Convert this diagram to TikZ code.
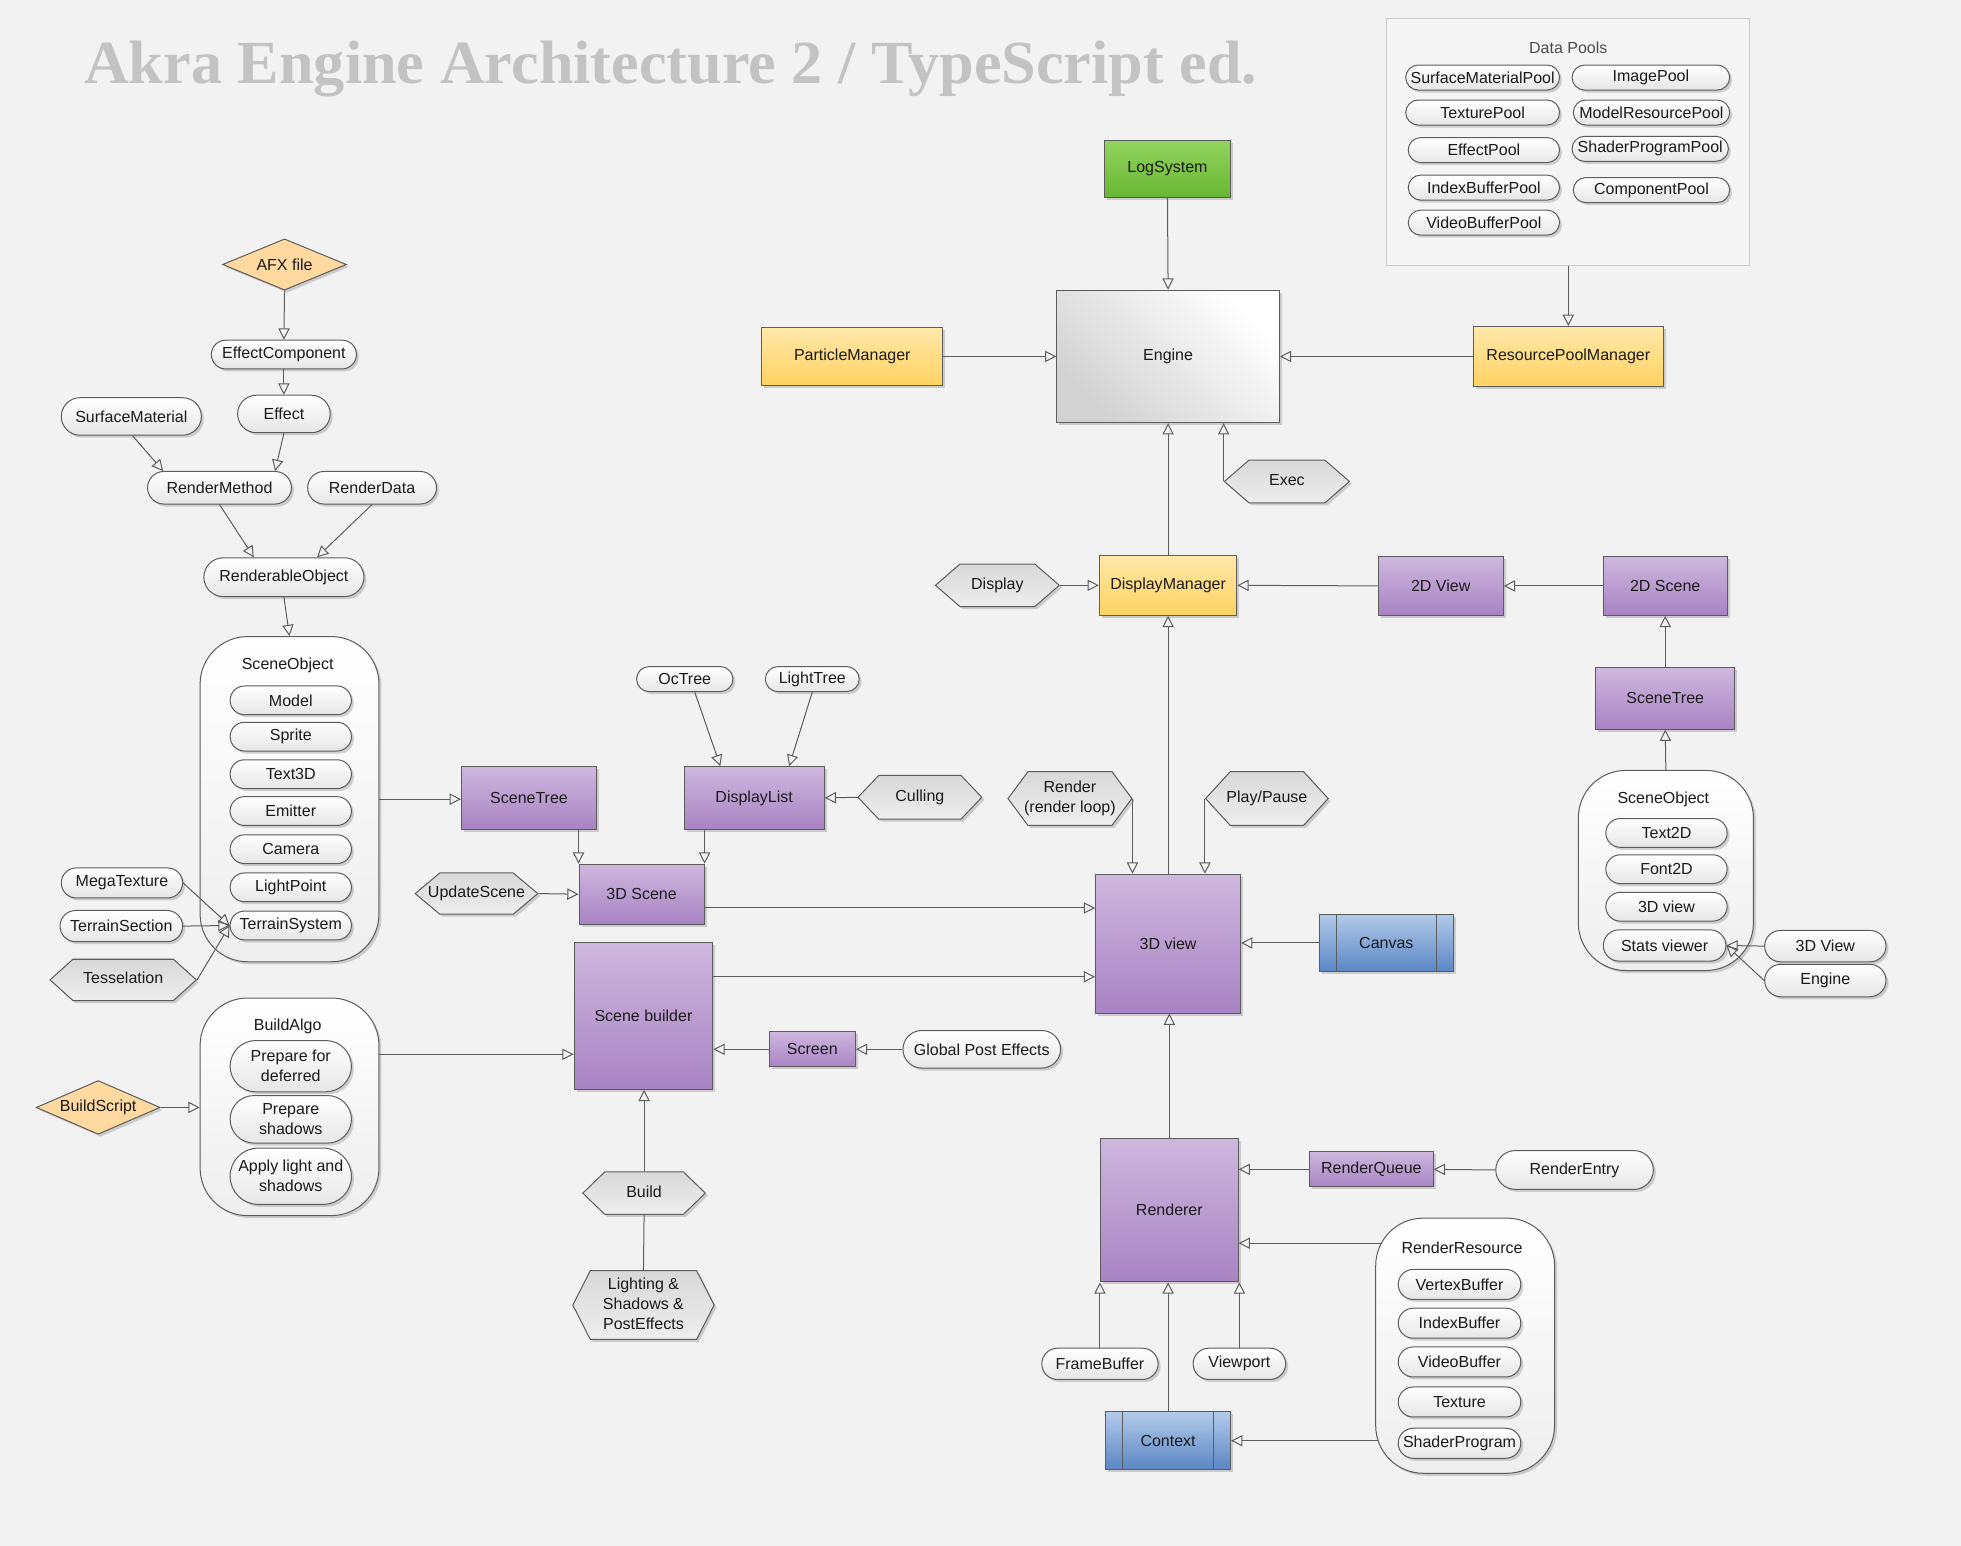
\documentclass[tikz,border=0pt]{standalone}
\usepackage{fontspec}
\setmainfont{Liberation Sans}
\newfontfamily\titlefont{Liberation Serif}
\usetikzlibrary{arrows.meta,shapes.misc,shapes.geometric,shapes.symbols,shadows,calc}
\definecolor{bg}{HTML}{F2F2F2}
\definecolor{linec}{HTML}{5C5C5C}
\definecolor{txt}{HTML}{1A1A1A}
\definecolor{purT}{HTML}{CEB7DE}
\definecolor{purB}{HTML}{A883C3}
\definecolor{yelT}{HTML}{FFE8AA}
\definecolor{yelB}{HTML}{FFD262}
\definecolor{grnT}{HTML}{92D45E}
\definecolor{grnB}{HTML}{68B634}
\definecolor{bluT}{HTML}{B2CAE9}
\definecolor{bluB}{HTML}{5A86C4}
\definecolor{hexT}{HTML}{D8D8D8}
\definecolor{hexB}{HTML}{EEEEEE}
\definecolor{pillB}{HTML}{E6E6E6}
\definecolor{contB}{HTML}{EEEEEE}
\definecolor{diamC}{HTML}{FFD9A0}
\definecolor{titleC}{HTML}{C3C3C3}
\definecolor{engB}{HTML}{D2D2D2}
\definecolor{dpfill}{HTML}{F5F5F5}
\definecolor{dpline}{HTML}{CCCCCC}
\newcommand\hexlabel[1]{\makebox[0pt]{\begin{tabular}{@{}c@{}}#1\end{tabular}}}
\begin{document}
\begin{tikzpicture}[x=1pt,y=-1pt,
  font=\fontsize{12.8}{16}\selectfont,
  sz/.style 2 args={minimum width=#1pt, minimum height=#2pt},
  base/.style={draw=linec, line width=0.8pt, inner sep=1pt, align=center, text=txt},
  shad/.style={drop shadow={shadow xshift=2pt,shadow yshift=-2pt,opacity=0.3,fill=black!55}},
  purbox/.style={base, shad, rectangle, top color=purT, bottom color=purB},
  yelbox/.style={base, shad, rectangle, top color=yelT, bottom color=yelB},
  grnbox/.style={base, shad, rectangle, top color=grnT, bottom color=grnB},
  blubox/.style={base, shad, rectangle, top color=bluT, bottom color=bluB},
  pill/.style={base, shad, rounded rectangle, top color=white, bottom color=pillB},
  hexa/.style={base, shad, signal, signal to=west and east, signal pointer angle=#1, inner sep=0pt, top color=hexT, bottom color=hexB},
  cont/.style={base, shad, rectangle, rounded corners=38pt, top color=white, bottom color=contB},
  diam/.style={base, shad, diamond, aspect=2.3, inner sep=0pt, fill=diamC},
  ctitle/.style={inner sep=0pt, text=txt},
  arr/.style={draw=linec, line width=0.8pt, -{Triangle[open, length=9pt, width=9pt]}},
  ln/.style={draw=linec, line width=0.8pt}
]
\fill[bg] (0,0) rectangle (1568,1236);
\useasboundingbox (0,0) rectangle (1568,1236);

% title
\node[anchor=base west, inner sep=0pt, text=titleC] (title) at (67,67)
  {\resizebox{938pt}{34pt}{\titlefont\bfseries Akra Engine Architecture 2 / TypeScript ed.}};

% data pools
\node[draw=dpline, fill=dpfill, line width=0.8pt, sz={290}{197}] (dp) at (1254,113.5) {};
\node[ctitle, text=black!70] (dpt) at (1254,38) {Data Pools};
\node[pill, sz={125}{20}] (smp) at (1185.5,62) {SurfaceMaterialPool};
\node[pill, sz={128}{20}] (imgp) at (1320,62) {ImagePool};
\node[pill, sz={125}{20}] (texp) at (1185.5,90) {TexturePool};
\node[pill, sz={127}{20}] (mrp) at (1320.5,90) {ModelResourcePool};
\node[pill, sz={123}{20}] (effp) at (1186.5,120) {EffectPool};
\node[pill, sz={127}{20}] (spp) at (1319.5,119) {ShaderProgramPool};
\node[pill, sz={123}{20}] (ibp) at (1186.5,150) {IndexBufferPool};
\node[pill, sz={127}{20}] (cpp) at (1320.5,152) {ComponentPool};
\node[pill, sz={123}{20}] (vbp) at (1186.5,178) {VideoBufferPool};

% core
\node[grnbox, sz={101}{46}] (log) at (933.5,135) {LogSystem};
\node[base, shad, rectangle, top color=white, bottom color=engB, shading angle=-45, sz={178}{106}] (engine) at (934,285) {Engine};
\node[yelbox, sz={145}{46}] (pm) at (681.5,285) {ParticleManager};
\node[yelbox, sz={152}{48}] (rpm) at (1254,285) {ResourcePoolManager};
\node[hexa=82, sz={100}{34}] (exec) at (1029,385) {\hexlabel{Exec}};
\node[yelbox, sz={110}{48}] (dm) at (934,468) {DisplayManager};
\node[hexa=82, sz={99}{34}] (display) at (797.5,468) {\hexlabel{Display}};
\node[purbox, sz={100}{47}] (v2d) at (1152,468.5) {2D View};
\node[purbox, sz={99}{47}] (s2d) at (1331.5,468.5) {2D Scene};
\node[purbox, sz={111}{49}] (st2) at (1331.5,558.5) {SceneTree};

% right scene object
\node[cont, sz={140}{160}] (so2) at (1332,696) {};
\node[ctitle] (so2t) at (1330,639) {SceneObject};
\node[pill, sz={99}{23}] (t2d) at (1332.5,666) {Text2D};
\node[pill, sz={99}{23}] (f2d) at (1332.5,695) {Font2D};
\node[pill, sz={99}{23}] (v3di) at (1332.5,725) {3D view};
\node[pill, sz={100}{25}] (stats) at (1331,756) {Stats viewer};
\node[pill, sz={99}{25}] (v3dp) at (1459.5,756.5) {3D View};
\node[pill, sz={99}{26}] (engp) at (1459.5,784) {Engine};

% 3D view block
\node[purbox, sz={116}{111}] (v3d) at (934,754.5) {3D view};
\node[hexa=107, sz={99}{43}] (render) at (855.5,638.5) {\hexlabel{Render\\(render loop)}};
\node[hexa=95, sz={98}{43}] (play) at (1013,638.5) {\hexlabel{Play/Pause}};
\node[blubox, sz={107}{46}] (canvas) at (1108.5,754) {Canvas};
\draw[ln] ([xshift=14pt]canvas.north west) -- ([xshift=14pt]canvas.south west);
\draw[ln] ([xshift=-14pt]canvas.north east) -- ([xshift=-14pt]canvas.south east);

% scene
\node[purbox, sz={100}{48}] (s3d) at (513,715) {3D Scene};
\node[purbox, sz={111}{117}] (sb) at (514.5,812.5) {Scene builder};
\node[purbox, sz={108}{50}] (st1) at (423,638) {SceneTree};
\node[purbox, sz={112}{50}] (dl) at (603,638) {DisplayList};
\node[pill, sz={79}{20}] (oct) at (547.5,543) {OcTree};
\node[pill, sz={77}{20}] (lt) at (649.5,543) {LightTree};
\node[hexa=93, sz={99}{35}] (cull) at (735.5,637.5) {\hexlabel{Culling}};
\node[hexa=80, sz={98}{33}] (us) at (381,714.5) {\hexlabel{UpdateScene}};
\node[purbox, sz={69}{28}] (screen) at (649.5,839) {Screen};
\node[pill, sz={128}{30}] (gpe) at (785,839) {Global Post Effects};
\node[hexa=88, sz={98}{34}] (build) at (515,954) {\hexlabel{Build}};
\node[hexa=126, sz={113}{55}] (lsp) at (514.5,1043.5) {\hexlabel{Lighting \&\\Shadows \&\\PostEffects}};

% left column
\node[diam, sz={99}{41}] (afx) at (227.5,211.5) {AFX file};
\node[pill, sz={118}{23}] (ec) at (227,283.5) {EffectComponent};
\node[pill, sz={114}{30}] (sm) at (105,333) {SurfaceMaterial};
\node[pill, sz={76}{30}] (eff) at (227,331) {Effect};
\node[pill, sz={117}{26}] (rm) at (175.5,390) {RenderMethod};
\node[pill, sz={105}{26}] (rd) at (297.5,390) {RenderData};
\node[pill, sz={130}{31}] (ro) at (227,461.5) {RenderableObject};

\node[cont, sz={143}{260}] (so1) at (231.5,639) {};
\node[ctitle] (so1t) at (230,532) {SceneObject};
\node[pill, sz={99}{23}] (model) at (232.5,560) {Model};
\node[pill, sz={99}{23}] (sprite) at (232.5,589) {Sprite};
\node[pill, sz={99}{23}] (t3d) at (232.5,619) {Text3D};
\node[pill, sz={99}{23}] (emit) at (232.5,648.5) {Emitter};
\node[pill, sz={99}{23}] (cam) at (232.5,679) {Camera};
\node[pill, sz={99}{23}] (lpt) at (232.5,709.5) {LightPoint};
\node[pill, sz={99}{23}] (tsys) at (232.5,740) {TerrainSystem};
\node[pill, sz={99}{24}] (mt) at (97.5,706) {MegaTexture};
\node[pill, sz={100}{25}] (tsec) at (97,740.5) {TerrainSection};
\node[hexa=84, sz={117}{33}] (tess) at (98.5,783.5) {\hexlabel{Tesselation}};

\node[cont, sz={143}{174}] (ba) at (231.5,885) {};
\node[ctitle] (bat) at (230,821) {BuildAlgo};
\node[pill, sz={99}{41}] (pf) at (232.5,852.5) {Prepare for\\deferred};
\node[pill, sz={99}{38}] (psh) at (232.5,895) {Prepare\\shadows};
\node[pill, sz={99}{45}] (al) at (232.5,940.5) {Apply light and\\shadows};
\node[diam, sz={99}{43}] (bs) at (78.5,885.5) {BuildScript};

% renderer
\node[purbox, sz={110}{115}] (renderer) at (935,967.5) {Renderer};
\node[purbox, sz={99}{28}] (rq) at (1096.5,935) {RenderQueue};
\node[pill, sz={128}{31}] (re) at (1259,935.5) {RenderEntry};
\node[cont, sz={143}{204}] (rr) at (1171.5,1076) {};
\node[ctitle] (rrt) at (1169,998) {RenderResource};
\node[pill, sz={100}{24}] (vb) at (1167,1027) {VertexBuffer};
\node[pill, sz={100}{24}] (ib) at (1167,1058) {IndexBuffer};
\node[pill, sz={100}{24}] (vdb) at (1167,1089) {VideoBuffer};
\node[pill, sz={100}{24}] (tex) at (1167,1121) {Texture};
\node[pill, sz={100}{24}] (shp) at (1167,1154) {ShaderProgram};
\node[blubox, sz={100}{46}] (context) at (934,1152) {Context};
\draw[ln] ([xshift=14pt]context.north west) -- ([xshift=14pt]context.south west);
\draw[ln] ([xshift=-14pt]context.north east) -- ([xshift=-14pt]context.south east);
\node[pill, sz={95}{25}] (fb) at (879.5,1090.5) {FrameBuffer};
\node[pill, sz={76}{25}] (vp) at (991,1090.5) {Viewport};

% connectors
\draw[arr] (log.south) -- (engine.north);
\draw[arr] (pm.east) -- (engine.west);
\draw[arr] (rpm.west) -- (engine.east);
\draw[arr] (dp.south) -- (rpm.north);
\draw[arr] (exec.west) -- (exec.west |- engine.south);
\draw[arr] (dm.north) -- (engine.south);
\draw[arr] (display.east) -- (dm.west);
\draw[arr] (v2d.west) -- (dm.east);
\draw[arr] (s2d.west) -- (v2d.east);
\draw[arr] (st2.north) -- (s2d.south);
\draw[arr] (so2.north) -- (st2.south);
\draw[arr] (v3dp.west) -- (stats.east);
\draw[arr] (engp.west) -- (stats.east);
\draw[arr] (v3d.north) -- (dm.south);
\draw[arr] (render.east) -- (render.east |- v3d.north);
\draw[arr] (play.west) -- (play.west |- v3d.north);
\draw[arr] (canvas.west) -- (canvas.west -| v3d.east);
\draw[arr] ([yshift=-11pt]s3d.east) -- ([yshift=-11pt]s3d.east -| v3d.west);
\draw[arr] ([yshift=31.5pt]sb.east) -- ([yshift=31.5pt]sb.east -| v3d.west);
\draw[arr] (so1.east) -- (so1.east -| st1.west);
\draw[arr] (s3d.north west |- st1.south) -- (s3d.north west);
\draw[arr] (s3d.north east |- dl.south) -- (s3d.north east);
\draw[arr] ([xshift=8pt]oct.south) -- ([xshift=-27pt]dl.north);
\draw[arr] (lt.south) -- ([xshift=28pt]dl.north);
\draw[arr] (cull.west) -- (dl.east);
\draw[arr] (us.east) -- (s3d.west);
\draw[arr] (screen.west) -- (screen.west -| sb.east);
\draw[arr] (gpe.west) -- (screen.east);
\draw[arr] (build.north) -- (build.north |- sb.south);
\draw[ln] (lsp.north) -- (build.south);
\draw[arr] (ro.south) -- (so1.north);
\draw[arr] (rm.south) -- ([xshift=-24pt]ro.north);
\draw[arr] (rd.south) -- ([xshift=26.5pt]ro.north);
\draw[arr] ([xshift=1pt]sm.south) -- ([xshift=-45pt]rm.north);
\draw[arr] (eff.south) -- ([xshift=44.5pt]rm.north);
\draw[arr] (ec.south) -- (eff.north);
\draw[arr] (afx.south) -- (ec.north);
\draw[arr] (mt.east) -- (tsys.west);
\draw[arr] (tsec.east) -- (tsys.west);
\draw[arr] (tess.east) -- (tsys.west);
\draw[arr] ([yshift=42pt]ba.east) -- ([yshift=42pt]ba.east -| sb.west);
\draw[arr] (bs.east) -- (bs.east -| ba.west);
\draw[arr] (renderer.north) -- (renderer.north |- v3d.south);
\draw[arr] (rq.west) -- (rq.west -| renderer.east);
\draw[arr] (re.west) -- (rq.east);
\draw[arr] ([yshift=82pt,xshift=4.5pt]rr.west) -- ([yshift=82pt]rr.west -| renderer.east);
\draw[arr] ([yshift=-76pt,xshift=2pt]rr.west) -- ([yshift=-76pt]rr.west -| context.east);
\draw[arr] (context.north) -- (context.north |- renderer.south);
\draw[arr] (fb.north) -- (fb.north |- renderer.south);
\draw[arr] (vp.north) -- (vp.north |- renderer.south);
\end{tikzpicture}
\end{document}
